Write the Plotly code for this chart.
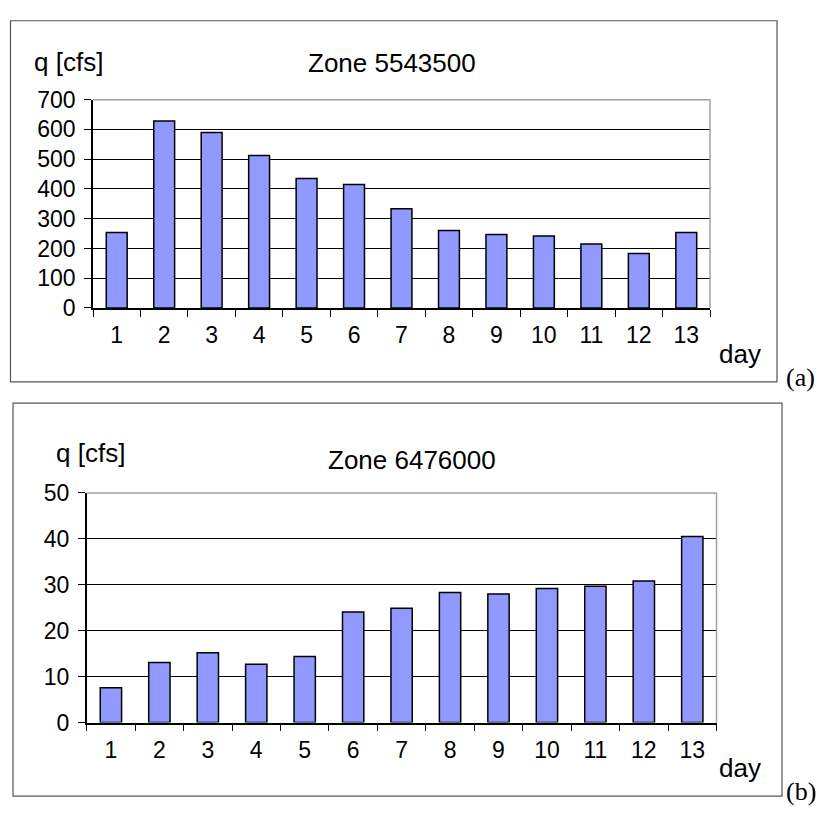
import plotly.graph_objects as go

W, H = 820, 815

days = [str(d) for d in range(1, 14)]
q_5543500 = [254, 628, 590, 512, 435, 415, 333, 260, 247, 242, 215, 183, 254]
q_6476000 = [7.6, 13.1, 15.2, 12.7, 14.4, 24.1, 24.9, 28.3, 28.0, 29.2, 29.7, 30.8, 40.5]

BAR = '#9099ff'
FONT = 'Liberation Sans, Arial, sans-serif'
SERIF = 'Liberation Serif, Times New Roman, serif'


def px(x):
    return x / W


def py(y):
    return 1 - y / H


fig = go.Figure()
fig.add_trace(go.Bar(x=days, y=q_5543500, marker=dict(color=BAR, line=dict(color='black', width=1.5)),
                     xaxis='x', yaxis='y', showlegend=False))
fig.add_trace(go.Bar(x=days, y=q_6476000, marker=dict(color=BAR, line=dict(color='black', width=1.5)),
                     xaxis='x2', yaxis='y2', showlegend=False))

xax = dict(type='category', showline=True, linecolor='black', linewidth=1.5, ticks='outside',
           tickson='boundaries', ticklen=7, tickcolor='black', showgrid=False,
           tickfont=dict(family=FONT, size=23, color='black'), ticklabelstandoff=6, fixedrange=True)
yax = dict(showline=True, linecolor='black', linewidth=1.5, ticks='outside', ticklen=7, tickcolor='black',
           showgrid=True, gridcolor='black', gridwidth=1, zeroline=False,
           tickfont=dict(family=FONT, size=23, color='black'), ticklabelstandoff=4, fixedrange=True)

fig.update_layout(
    width=W, height=H, margin=dict(l=0, r=0, t=0, b=0),
    plot_bgcolor='white', paper_bgcolor='white', bargap=0.56,
    xaxis=dict(xax, domain=[px(93), px(710)], anchor='y'),
    yaxis=dict(yax, domain=[py(304.7), py(89.5)], range=[0, 700], dtick=100, anchor='x'),
    xaxis2=dict(xax, domain=[px(86.7), px(716.5)], anchor='y2'),
    yaxis2=dict(yax, domain=[py(733), py(495.7)], range=[0, 50], dtick=10, anchor='x2'),
)

shapes = []
# outer frames of the two charts
for x0, y0, x1, y1 in [(10.5, 8, 777, 381), (13, 403, 782, 809)]:
    shapes.append(dict(type='rect', xref='paper', yref='paper', x0=px(x0), x1=px(x1), y0=py(y1), y1=py(y0),
                       line=dict(color='#555555', width=1.2), layer='above'))
# grey plot-area border on top and right
for xr, yr in [('x domain', 'y domain'), ('x2 domain', 'y2 domain')]:
    shapes.append(dict(type='line', xref=xr, yref=yr, x0=0, x1=1, y0=1, y1=1,
                       line=dict(color='#a0a0a0', width=1.5), layer='above'))
    shapes.append(dict(type='line', xref=xr, yref=yr, x0=1, x1=1, y0=0, y1=1,
                       line=dict(color='#a0a0a0', width=1.5), layer='above'))
fig.update_layout(shapes=shapes)

labels = [
    ('q [cfs]', 68, 51, FONT, 26),
    ('Zone 5543500', 392, 52, FONT, 26),
    ('day', 740, 352, FONT, 26),
    ('(a)', 800, 377, SERIF, 26),
    ('q [cfs]', 90, 454, FONT, 26),
    ('Zone 6476000', 412, 462, FONT, 26),
    ('day', 740, 780, FONT, 26),
    ('(b)', 801, 804, SERIF, 26),
]
for text, x, y, fam, size in labels:
    fig.add_annotation(text=text, x=px(x), y=py(y), xref='paper', yref='paper', showarrow=False,
                       xanchor='center', yanchor='middle', font=dict(family=fam, size=size, color='black'))

# drop the default body margin so the figure fills the window exactly
fig.write_html("out.html", config={'displayModeBar': False},
               post_script="document.body.style.margin='0';document.body.style.overflow='hidden';")
